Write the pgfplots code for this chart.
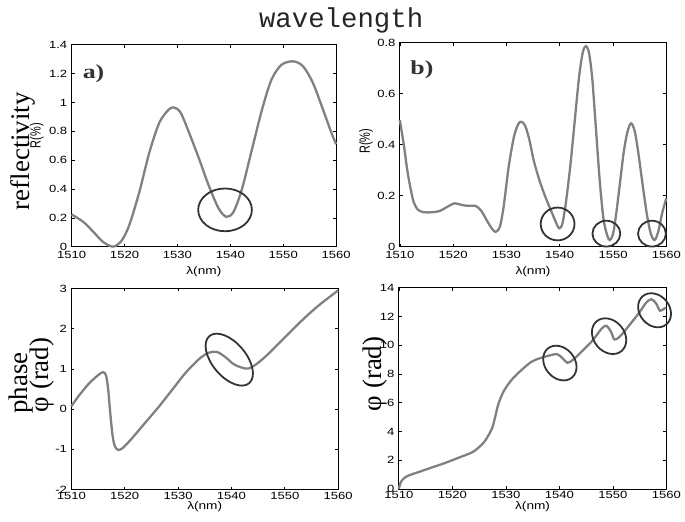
\documentclass[border=0pt]{standalone}
\usepackage{pgfplots}
\pgfplotsset{compat=1.18}
\usepackage{fontspec}
\setmainfont{Liberation Sans}
\newfontfamily\serif{Liberation Serif}
\newfontfamily\mono{Liberation Mono}

\tikzset{
  ring/.style={black!80, line width=1.8pt},
  biglabel/.style={font=\serif\fontsize{27}{30}\selectfont},
  panelname/.style={font=\serif\bfseries\fontsize{20}{22}\selectfont, black!80, xscale=1.3},
  rlabel/.style={font=\fontsize{11}{12}\selectfont, xscale=1.35, rotate=90},
}
\pgfplotsset{
  panel/.style={
    scale only axis, anchor=south west, clip=false,
    xmin=1510, xmax=1560, xtick={1510,1520,...,1560},
    scaled ticks=false,
    tick align=inside, tick pos=both, major tick length=3pt,
    every tick/.style={black, line width=0.6pt},
    axis line style={black, line width=0.8pt},
    tick label style={font=\fontsize{10.5}{12}\selectfont, xscale=1.25},
    xlabel style={font=\fontsize{11}{12}\selectfont, xscale=1.25},
    /pgf/number format/assume math mode=true,
    /pgf/number format/1000 sep={},
    xlabel={λ(nm)},
  },
  curve/.style={black!50, line width=2.3pt, smooth},
}

\begin{document}
\begin{tikzpicture}
\path (0,0) rectangle (685pt,524pt);

% a) reflectivity, first structure
\begin{axis}[panel, at={(72pt,276pt)}, width=266pt, height=203pt,
    ymin=0, ymax=1.4, ytick={0,0.2,...,1.4},
    xticklabel style={yshift=-1pt},
    xlabel style={at={(axis description cs:0.5,-0.125)}, anchor=center}]
\addplot[curve] coordinates {
 (1510,0.223) (1512.2,0.172) (1514.1,0.103) (1515.9,0.034) (1517.8,0.0)
 (1519.4,0.039) (1520.9,0.149) (1522.8,0.379) (1524.7,0.654) (1526.6,0.861)
 (1528.4,0.952) (1529.4,0.964) (1530.6,0.93) (1532.2,0.79) (1534.1,0.608)
 (1535.9,0.425) (1537.8,0.264) (1539.25,0.207) (1540.6,0.241) (1542.2,0.40)
 (1544.1,0.677) (1546,0.952) (1547.8,1.16) (1549.7,1.262) (1551.9,1.285)
 (1553.75,1.25) (1555.6,1.136) (1557.5,0.952) (1559.1,0.79) (1560,0.71)
};
\draw[ring] (axis cs:1539.0,0.255) ellipse [x radius=27pt, y radius=21.5pt];
\node[panelname] at (rel axis cs:0.083,0.857) {a)};
\node[rlabel] at (rel axis cs:-0.132,0.55) {R(\%)};
\end{axis}

% b) reflectivity, second structure
\begin{axis}[panel, at={(402pt,276pt)}, width=268pt, height=205pt,
    ymin=0, ymax=0.8, ytick={0,0.2,...,0.8},
    xticklabel style={yshift=-1pt},
    xlabel style={at={(axis description cs:0.5,-0.124)}, anchor=center}]
\addplot[curve] coordinates {
 (1510,0.497) (1510.75,0.40) (1511.4,0.30) (1512,0.23) (1512.6,0.175)
 (1513.4,0.145) (1514.5,0.135) (1516,0.135) (1517.5,0.14) (1518.8,0.155)
 (1520.3,0.17) (1521.5,0.164) (1522.8,0.16) (1524.2,0.16) (1525.3,0.14)
 (1526.4,0.10) (1527.3,0.07) (1528.0,0.058) (1528.8,0.08) (1529.5,0.16)
 (1530.4,0.31) (1531.4,0.43) (1532.2,0.48) (1532.8,0.49) (1533.5,0.475)
 (1534.3,0.42) (1535.1,0.34) (1536.2,0.26) (1537.4,0.19) (1538.6,0.13)
 (1539.4,0.09) (1539.9,0.072) (1540.5,0.09) (1541.2,0.18) (1542,0.32)
 (1542.8,0.49) (1543.6,0.66) (1544.3,0.76) (1544.9,0.787) (1545.5,0.76)
 (1546.1,0.66) (1546.7,0.49) (1547.5,0.26) (1548.2,0.11) (1548.9,0.045)
 (1549.4,0.026) (1550,0.05) (1550.6,0.13) (1551.3,0.25) (1552,0.37)
 (1552.7,0.45) (1553.4,0.484) (1554.1,0.45) (1554.8,0.36) (1555.6,0.235)
 (1556.4,0.12) (1557.1,0.05) (1557.8,0.026) (1558.5,0.06) (1559.2,0.13)
 (1560,0.19)
};
\draw[ring] (axis cs:1539.6,0.089) ellipse [x radius=17pt, y radius=16.5pt];
\draw[ring] (axis cs:1548.75,0.051) ellipse [x radius=14pt, y radius=13pt];
\draw[ring] (axis cs:1557.3,0.051) ellipse [x radius=14pt, y radius=13pt];
\node[panelname] at (rel axis cs:0.083,0.87) {b)};
\node[rlabel] at (rel axis cs:-0.127,0.517) {R(\%)};
\end{axis}

% c) phase, first structure
\begin{axis}[panel, at={(71.7pt,31.7pt)}, width=268.3pt, height=202.3pt,
    ymin=-2, ymax=3, ytick={-2,-1,...,3},
    xticklabel style={yshift=1pt},
    ylabel={φ (rad)},
    ylabel style={at={(axis description cs:-0.111,0.57)}, anchor=center, biglabel},
    xlabel style={at={(axis description cs:0.5,-0.087)}, anchor=center}]
\addplot[curve] coordinates {
 (1510,0.07) (1511.4,0.33) (1513.2,0.62) (1514.8,0.82) (1515.9,0.92)
 (1516.5,0.84) (1516.9,0.5) (1517.3,-0.1) (1517.7,-0.62) (1518.1,-0.9)
 (1518.7,-1.01) (1519.6,-0.97) (1521.4,-0.72) (1523.9,-0.33) (1526.4,0.06)
 (1528.9,0.48) (1531.4,0.90) (1533.9,1.24) (1535.7,1.40) (1537.3,1.42)
 (1538.9,1.29) (1540.4,1.12) (1542,1.03) (1543.2,1.01) (1544.7,1.12)
 (1546.9,1.37) (1550,1.78) (1553.1,2.19) (1556.2,2.56) (1560,2.95)
};
\draw[ring, rotate around={-50:(axis cs:1539.6,1.23)}]
  (axis cs:1539.6,1.23) ellipse [x radius=31pt, y radius=17pt];
\end{axis}

% d) phase, second structure
\begin{axis}[panel, at={(401pt,32.3pt)}, width=269pt, height=202.4pt,
    ymin=0, ymax=14, ytick={0,2,...,14},
    xticklabel style={yshift=1pt},
    ylabel={φ (rad)},
    ylabel style={at={(axis description cs:-0.089,0.572)}, anchor=center, biglabel},
    xlabel style={at={(axis description cs:0.5,-0.089)}, anchor=center}]
\addplot[curve] coordinates {
 (1510,0.0) (1510.4,0.5) (1511.2,0.82) (1511.9,0.95) (1513.7,1.18)
 (1516.2,1.5) (1518.7,1.82) (1521.2,2.18) (1523.7,2.55) (1524.9,2.88)
 (1526.1,3.34) (1527.4,4.2) (1528,5.0) (1528.6,5.9) (1529.6,6.8)
 (1531.1,7.6) (1533,8.3) (1534.8,8.85) (1536.4,9.1) (1538.3,9.3)
 (1539.6,9.38) (1540.6,9.1) (1541.5,8.78) (1542.6,9.0) (1544.5,9.68)
 (1546.3,10.37) (1547.9,11.15) (1548.8,11.35) (1549.7,10.9) (1550.3,10.4)
 (1551.3,10.6) (1553.1,11.4) (1555,12.3) (1556.2,12.95) (1557.2,13.2)
 (1558.1,12.9) (1558.8,12.4) (1559.6,12.55) (1560,12.6)
};
\draw[ring, rotate around={-50:(axis cs:1540.1,8.76)}]
  (axis cs:1540.1,8.76) ellipse [x radius=19pt, y radius=15pt];
\draw[ring, rotate around={-50:(axis cs:1549.3,10.63)}]
  (axis cs:1549.3,10.63) ellipse [x radius=19.5pt, y radius=15.5pt];
\draw[ring, rotate around={-50:(axis cs:1557.8,12.43)}]
  (axis cs:1557.8,12.43) ellipse [x radius=18.5pt, y radius=15pt];
\end{axis}

% row and column titles
\node[font=\mono\fontsize{27.5}{30}\selectfont, black!85, anchor=base]
  at (343pt,496pt) {wavelength};
\node[biglabel, rotate=90] at (23pt,372pt) {reflectivity};
\node[biglabel, rotate=90] at (21pt,139pt) {phase};
\end{tikzpicture}
\end{document}
